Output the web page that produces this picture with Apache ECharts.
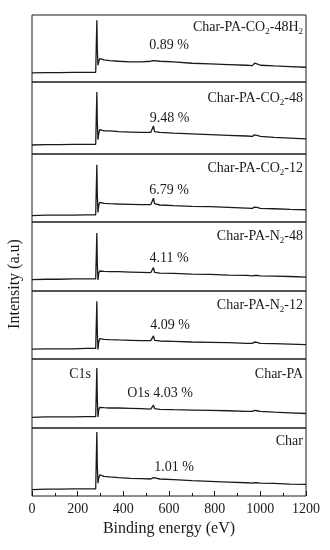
<!DOCTYPE html>
<html>
<head>
<meta charset="utf-8">
<script src="https://cdn.jsdelivr.net/npm/echarts@6/dist/echarts.min.js"></script>
<style>
  html, body { margin: 0; padding: 0; background: #fff; }
  #chart { width: 330px; height: 550px; }
</style>
</head>
<body>
<div id="chart"></div>
<script>
// binding energy points (eV), shared by all spectra
const energy = [0, 60, 120, 180, 240, 279, 284, 286, 289, 292, 297, 303, 315, 340, 380, 430, 480, 520, 528, 532, 537, 560, 620, 700, 780, 860, 940, 965, 975, 985, 1000, 1060, 1130, 1200]

// intensity (a.u.), top panel first
const charPaCo248H2 = [13.5, 14, 14, 14.5, 14.5, 14.5, 92, 50, 25, 30, 35, 34, 33, 32, 31, 30, 30, 31, 31.5, 32, 32, 31, 30, 28, 27, 26, 25, 24.5, 28, 27, 25, 24, 23, 22]
const charPaCo248 = [12.5, 13, 13, 13.5, 13.5, 13.5, 86, 45, 20, 28, 34, 33, 32, 32, 31, 30.5, 30, 30, 31, 39, 31, 30, 29, 28, 27, 26, 25, 24.5, 26.5, 26, 24.5, 23, 22, 21]
const charPaCo212 = [9.5, 10, 10, 10, 10.5, 10.5, 84, 40, 14, 24, 29, 28, 27.5, 27, 26.5, 26, 25.5, 25.5, 26, 35, 27, 25, 24, 23, 22.5, 21.5, 20.5, 20, 22, 21.5, 20, 19.5, 18.5, 18]
const charPaN248 = [16.5, 17, 17, 17.5, 17.5, 17.5, 84, 40, 16, 26, 29, 29, 28.5, 28, 28, 27.5, 27, 26.5, 27, 34, 27, 26, 25.5, 24.5, 24, 23, 22.5, 22, 22.5, 22.5, 22, 21.5, 21, 20]
const charPaN212 = [14.5, 15, 15, 15, 15.5, 15.5, 85, 40, 14, 25, 30, 29.5, 29, 28.5, 28, 27.5, 27, 27, 27.5, 34, 27.5, 26.5, 26, 25, 24.5, 24, 23, 23, 25, 24.5, 23, 22.5, 22, 21]
const charPa = [15.5, 16, 16, 16, 16.5, 16.5, 87, 42, 16, 26, 30, 30, 29.5, 29, 29, 28.5, 28, 27.5, 28, 33, 28, 27, 26.5, 26, 25.5, 25, 24, 24, 25.5, 25, 24, 23, 22, 21]
const charRaw = [9.5, 10, 10, 10.5, 10.5, 10.5, 94, 45, 19, 26, 31, 30, 29, 28, 27, 26, 25.5, 25, 25.5, 27, 25.5, 25, 24, 22.5, 21.5, 20.5, 19.5, 19, 19.5, 19.5, 19, 18.5, 17.5, 17]

const spectra = [charPaCo248H2, charPaCo248, charPaCo212, charPaN248, charPaN212, charPa, charRaw]

// sample names ({s|..} = subscript) and O content labels
const sampleNames = ['Char-PA-CO{s|2}-48H{s|2}', 'Char-PA-CO{s|2}-48', 'Char-PA-CO{s|2}-12', 'Char-PA-N{s|2}-48', 'Char-PA-N{s|2}-12', 'Char-PA', 'Char']
const oxygenLabels = ['0.89 %', '9.48 %', '6.79 %', '4.11 %', '4.09 %', 'O1s 4.03 %', '1.01 %']
const xTicks = [0, 200, 400, 600, 800, 1000, 1200]

// layout
const FONT = '"Liberation Serif", "DejaVu Serif", serif'
const INK = '#1a1a1a'
const panelTops = [15, 82, 154, 222, 291, 359, 428]
const plotBottom = 496
const plotLeft = 32
const plotRight = 306
const nameDy = [12, 16, 14, 14, 14, 15, 13]
const pctDy = [30, 36, 36, 36, 34, 34, 39]
const pctX = [169, 169.5, 169, 169, 170, 160, 174]

const n = spectra.length
const grids = []
const xAxes = []
const yAxes = []
const series = []
const graphics = []

for (let i = 0; i < n; i++) {
  const top = panelTops[i]
  const bottom = i < n - 1 ? panelTops[i + 1] : plotBottom
  const last = i === n - 1
  grids.push({
    left: plotLeft,
    width: plotRight - plotLeft,
    top: top,
    height: bottom - top,
    show: true,
    borderColor: INK,
    borderWidth: 1,
    backgroundColor: 'transparent'
  })
  xAxes.push({
    type: 'value',
    gridIndex: i,
    min: xTicks[0],
    max: xTicks[xTicks.length - 1],
    interval: 200,
    axisLine: { show: false },
    axisTick: { show: last, inside: true, length: 5, lineStyle: { color: INK, width: 1 } },
    minorTick: { show: last, splitNumber: 2, length: 3, lineStyle: { color: INK, width: 1 } },
    axisLabel: {
      show: last, margin: 6, color: INK, fontFamily: FONT, fontSize: 14,
      formatter: (v) => String(v)
    },
    splitLine: { show: false },
    name: last ? 'Binding energy (eV)' : '',
    nameLocation: 'middle',
    nameGap: 25,
    nameTextStyle: { color: INK, fontFamily: FONT, fontSize: 16 }
  })
  yAxes.push({
    type: 'value',
    gridIndex: i,
    min: 0,
    max: 100,
    show: false
  })
  series.push({
    type: 'line',
    xAxisIndex: i,
    yAxisIndex: i,
    data: energy.map((e, k) => [e, spectra[i][k]]),
    showSymbol: false,
    symbol: 'none',
    lineStyle: { color: INK, width: 1.3 },
    silent: true
  })
  graphics.push({
    type: 'text',
    x: plotRight - 3,
    y: top + nameDy[i],
    style: {
      text: sampleNames[i],
      align: 'right',
      verticalAlign: 'middle',
      fill: INK,
      fontFamily: FONT,
      fontSize: 14,
      lineHeight: 18,
      rich: {
        s: { fontSize: 9, lineHeight: 9, verticalAlign: 'bottom', fontFamily: FONT, fill: INK }
      }
    }
  })
  graphics.push({
    type: 'text',
    x: pctX[i],
    y: top + pctDy[i],
    style: {
      text: oxygenLabels[i],
      align: 'center',
      verticalAlign: 'middle',
      fill: INK,
      fontFamily: FONT,
      fontSize: 14
    }
  })
}

// C1s marker in the Char-PA panel
graphics.push({
  type: 'text',
  x: 91,
  y: panelTops[5] + 15,
  style: { text: 'C1s', align: 'right', verticalAlign: 'middle', fill: INK, fontFamily: FONT, fontSize: 14 }
})

// y axis title
graphics.push({
  type: 'text',
  x: 15,
  y: 284,
  rotation: Math.PI / 2,
  style: { text: 'Intensity (a.u)', align: 'center', verticalAlign: 'middle', fill: INK, fontFamily: FONT, fontSize: 16 }
})

const myChart = echarts.init(document.getElementById('chart'), null, { renderer: 'canvas' })
myChart.setOption({
  animation: false,
  backgroundColor: '#fff',
  grid: grids,
  xAxis: xAxes,
  yAxis: yAxes,
  series: series,
  graphic: graphics
})
</script>
</body>
</html>
